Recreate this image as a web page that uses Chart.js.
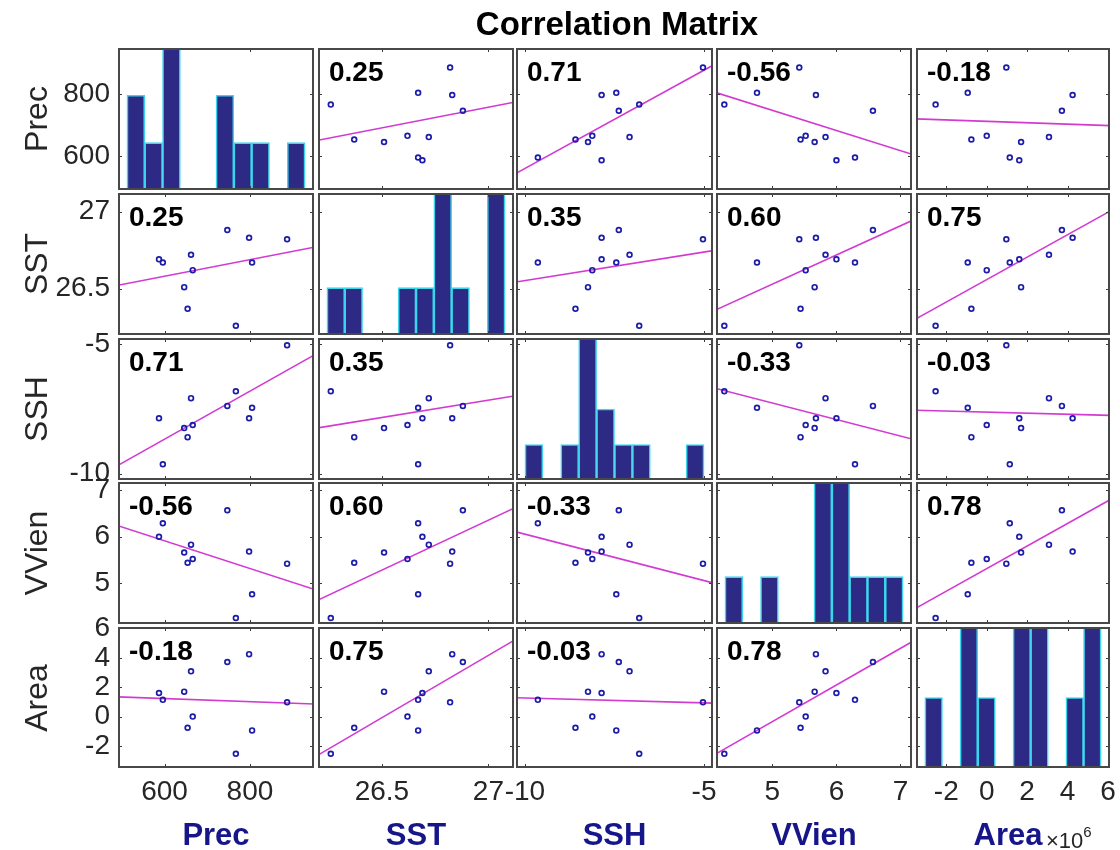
<!DOCTYPE html>
<html>
<head>
<meta charset="utf-8">
<script src="https://cdn.jsdelivr.net/npm/chart.js@4.4.1/dist/chart.umd.min.js"></script>
<style>
  body { margin: 0; background: #fff; font-family: "Liberation Sans", Arial, sans-serif; }
  #fig { position: relative; width: 1120px; height: 850px; overflow: hidden; }
  .panel { position: absolute; }
  .lbl { position: absolute; white-space: nowrap; line-height: 1; }
  .title { font-weight: bold; font-size: 33px; color: #000; transform: translate(-50%, -50%); }
  .yname { font-size: 32px; color: #262626; transform: translate(-50%, -50%) rotate(-90deg); }
  .xname { font-weight: bold; font-size: 31px; color: #16168a; transform: translate(-50%, -50%); }
  .mult { font-size: 22px; color: #262626; transform: translate(0, -50%); }
  .mult sup { font-size: 15px; vertical-align: 11px; }
</style>
</head>
<body>
<div id="fig"></div>
<script>
const names = ["Prec", "SST", "SSH", "VVien", "Area"];
const prec  = [587, 596, 662, 666, 646, 654, 747, 798, 805, 767, 887];
const sst   = [26.69, 26.67, 26.72, 26.62, 26.51, 26.37, 26.88, 26.83, 26.67, 26.26, 26.82];
const ssh   = [-7.86, -9.64, -7.08, -8.12, -8.24, -8.59, -7.38, -7.86, -7.45, -6.81, -5.03];
const vvien = [6.00, 6.29, 5.83, 5.52, 5.66, 5.44, 6.57, 5.68, 4.76, 4.25, 5.42];
const area  = [1.61, 1.14, 3.08, 0.00, 1.70, -0.76, 3.72, 4.25, -0.94, -2.53, 0.97]; // x10^6

// histogram counts on the diagonal (10 bins, min..max)
const precCounts  = [2, 1, 3, 0, 0, 2, 1, 1, 0, 1];
const sstCounts   = [1, 1, 0, 0, 1, 1, 3, 1, 0, 3];
const sshCounts   = [1, 0, 1, 4, 2, 1, 1, 0, 0, 1];
const vvienCounts = [1, 0, 1, 0, 0, 3, 3, 1, 1, 1];
const areaCounts  = [1, 0, 2, 1, 0, 2, 2, 0, 1, 2];

// axis limits and ticks per variable
const limLo = [491, 26.2, -10.25, 4.12, -3.5];
const limHi = [950, 27.12, -4.75, 7.18, 6.1];
const tickVals = [[600, 800], [26.5, 27], [-10, -5], [5, 6, 7], [-2, 0, 2, 4, 6]];

const corrText = [
  ["", "0.25", "0.71", "-0.56", "-0.18"],
  ["0.25", "", "0.35", "0.60", "0.75"],
  ["0.71", "0.35", "", "-0.33", "-0.03"],
  ["-0.56", "0.60", "-0.33", "", "0.78"],
  ["-0.18", "0.75", "-0.03", "0.78", ""],
];

const series = [prec, sst, ssh, vvien, area];
const counts = [precCounts, sstCounts, sshCounts, vvienCounts, areaCounts];

// panel geometry
const colL = [118, 318, 516, 716, 916], colR = [314, 514, 713, 912, 1110];
const rowT = [48, 193, 338, 482, 627], rowB = [190, 335, 480, 624, 768];
const padL = colL[0], padB = 60, m = 16;

const FONT = '"Liberation Sans", Arial, sans-serif';
const tickFont = { family: FONT, size: 28, lineHeight: 1 };
const fig = document.getElementById("fig");

function fitLine(xs, ys, lo, hi) {
  const n = xs.length;
  const mx = xs.reduce((s, v) => s + v, 0) / n;
  const my = ys.reduce((s, v) => s + v, 0) / n;
  let sxy = 0, sxx = 0;
  xs.forEach((x, i) => { sxy += (x - mx) * (ys[i] - my); sxx += (x - mx) ** 2; });
  const b = sxy / sxx;
  return [{ x: lo, y: my + b * (lo - mx) }, { x: hi, y: my + b * (hi - mx) }];
}

// box, inward ticks on all sides, correlation label
const frame = {
  id: "frame",
  afterDraw(chart, args, o) {
    const { ctx, chartArea: a, scales } = chart;
    ctx.save();
    ctx.strokeStyle = "#3c3c3c";
    ctx.lineWidth = 1;
    ctx.beginPath();
    o.xt.forEach((v) => {
      const p = Math.round(scales.x.getPixelForValue(v)) + 0.5;
      ctx.moveTo(p, a.bottom); ctx.lineTo(p, a.bottom - 4);
      ctx.moveTo(p, a.top); ctx.lineTo(p, a.top + 4);
    });
    o.yt.forEach((v) => {
      const p = Math.round(scales.y.getPixelForValue(v)) + 0.5;
      ctx.moveTo(a.left, p); ctx.lineTo(a.left + 4, p);
      ctx.moveTo(a.right, p); ctx.lineTo(a.right - 4, p);
    });
    ctx.stroke();
    ctx.strokeStyle = "#484848";
    ctx.lineWidth = 2;
    ctx.strokeRect(a.left + 1, a.top + 1, a.width - 2, a.height - 2);
    if (o.label) {
      ctx.font = "bold 28px " + FONT;
      ctx.fillStyle = "#000";
      ctx.textBaseline = "alphabetic";
      ctx.fillText(o.label, a.left + 11, a.top + 33);
    }
    ctx.restore();
  },
};

function axis(i, show, isX) {
  return {
    type: "linear", min: limLo[i], max: limHi[i], display: show, offset: false,
    afterBuildTicks: (s) => { s.ticks = tickVals[i].map((v) => ({ value: v })); },
    afterFit: (s) => {
      // fixed gutter for the outer labels, no extra padding into the plot
      if (isX) s.height = show ? padB : 0; else s.width = show ? padL : 0;
      s.paddingTop = s.paddingBottom = s.paddingLeft = s.paddingRight = 0;
    },
    grid: { display: false, drawTicks: false, offset: false },
    border: { display: false },
    ticks: {
      font: tickFont, color: "#262626", padding: isX ? 10 : 8,
      autoSkip: false, maxRotation: 0, callback: (v) => String(v),
    },
  };
}

for (let r = 0; r < 5; r++) {
  for (let c = 0; c < 5; c++) {
    // canvas box with a margin so the outer tick labels are not cut
    const pad = { left: c === 0 ? 0 : m, right: m, top: m, bottom: r === 4 ? 0 : m };
    const left = (c === 0 ? 0 : colL[c]) - pad.left;
    const top = rowT[r] - pad.top;
    const box = document.createElement("div");
    box.className = "panel";
    box.style.left = left + "px";
    box.style.top = top + "px";
    box.style.width = (colR[c] + pad.right - left) + "px";
    box.style.height = (rowB[r] + (r === 4 ? padB : pad.bottom) - top) + "px";
    const cv = document.createElement("canvas");
    box.appendChild(cv);
    fig.appendChild(box);

    const scales = { x: axis(c, r === 4, true), y: axis(r, c === 0, false) };
    let datasets;
    if (r === c) {
      // histogram on its own hidden axes
      const vals = series[c];
      const lo = Math.min(...vals), hi = Math.max(...vals), bw = (hi - lo) / 10;
      const span = hi - lo;
      scales.xh = {
        type: "linear", axis: "x", display: false, offset: false, grid: { offset: false },
        min: lo - 0.05 * span, max: hi + 0.05 * span,
      };
      scales.yh = { type: "linear", axis: "y", display: false, min: 0, max: Math.max(...counts[c]) };
      datasets = [
        {
          type: "bar", xAxisID: "xh", yAxisID: "yh",
          data: counts[c].map((n, k) => ({ x: lo + bw * (k + 0.5), y: n })),
          backgroundColor: "#2d2a85", borderColor: "#3ad6ea", borderWidth: 1.6,
          borderSkipped: false, barPercentage: 1, categoryPercentage: 1,
        },
        {
          type: "line", xAxisID: "xh", yAxisID: "yh",
          data: [{ x: lo, y: 0 }, { x: hi, y: 0 }],
          borderColor: "#3ad6ea", borderWidth: 3, pointRadius: 0,
        },
      ];
    } else {
      const xs = series[c], ys = series[r];
      datasets = [
        {
          type: "scatter",
          data: xs.map((x, i) => ({ x, y: ys[i] })),
          pointStyle: "circle", pointRadius: 2.4, borderWidth: 1.7,
          borderColor: "#1c1ca8", backgroundColor: "rgba(0,0,0,0)",
        },
        {
          type: "line",
          data: fitLine(xs, ys, limLo[c], limHi[c]),
          borderColor: "#d23ad2", borderWidth: 1.6, pointRadius: 0,
        },
      ];
    }

    new Chart(cv, {
      type: r === c ? "bar" : "scatter",
      data: { datasets },
      options: {
        responsive: true, maintainAspectRatio: false, animation: false, events: [],
        layout: { padding: pad },
        scales,
        plugins: {
          legend: { display: false }, tooltip: { enabled: false },
          frame: { xt: tickVals[c], yt: tickVals[r], label: corrText[r][c] },
        },
      },
      plugins: [frame],
    });
  }
}

// text around the matrix
function addText(cls, html, x, y) {
  const d = document.createElement("div");
  d.className = "lbl " + cls;
  d.innerHTML = html;
  d.style.left = x + "px";
  d.style.top = y + "px";
  fig.appendChild(d);
}
addText("title", "Correlation Matrix", 617, 23);
names.forEach((n, i) => {
  addText("yname", n, 36, (rowT[i] + rowB[i]) / 2);
  addText("xname", n, (colL[i] + colR[i]) / 2 - (i === 4 ? 5 : 0), 834);
});
addText("mult", "&times;10<sup>6</sup>", 1046, 838);
</script>
</body>
</html>
